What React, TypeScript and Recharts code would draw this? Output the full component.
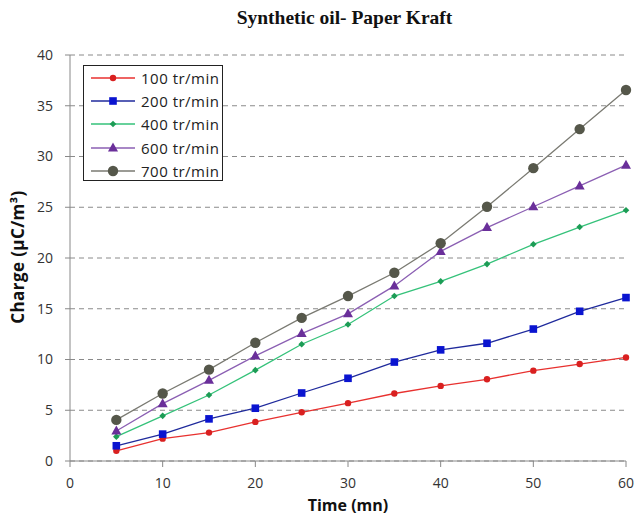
import React from 'react';
import { LineChart, Line, XAxis, YAxis, CartesianGrid } from 'recharts';

const times = [5, 10, 15, 20, 25, 30, 35, 40, 45, 50, 55, 60];
const s100 = [1.0, 2.2, 2.8, 3.85, 4.8, 5.7, 6.65, 7.4, 8.05, 8.9, 9.55, 10.2];
const s200 = [1.5, 2.65, 4.15, 5.2, 6.7, 8.15, 9.75, 10.95, 11.6, 13.0, 14.75, 16.1];
const s400 = [2.4, 4.45, 6.5, 8.95, 11.5, 13.45, 16.25, 17.7, 19.4, 21.35, 23.05, 24.7];
const s600 = [2.95, 5.65, 7.95, 10.35, 12.55, 14.5, 17.25, 20.65, 23.0, 25.05, 27.1, 29.15];
const s700 = [4.05, 6.65, 9.0, 11.65, 14.1, 16.25, 18.55, 21.45, 25.05, 28.85, 32.7, 36.55];
const xTicks = [0, 10, 20, 30, 40, 50, 60];
const yTicks = [0, 5, 10, 15, 20, 25, 30, 35, 40];

const seriesDefs = [
  { key: 's100', name: '100 tr/min', line: '#e8312f', fill: '#d92020', shape: 'smallCircle' },
  { key: 's200', name: '200 tr/min', line: '#1f2a9c', fill: '#0a14d0', shape: 'square' },
  { key: 's400', name: '400 tr/min', line: '#35c27a', fill: '#1c9c55', shape: 'diamond' },
  { key: 's600', name: '600 tr/min', line: '#8b5fb3', fill: '#6a2f9a', shape: 'triangle' },
  { key: 's700', name: '700 tr/min', line: '#7a7a72', fill: '#55574a', shape: 'bigCircle' },
];

const data = times.map((t, i) => ({
  t,
  s100: s100[i],
  s200: s200[i],
  s400: s400[i],
  s600: s600[i],
  s700: s700[i],
}));

function marker(shape: string, cx: number, cy: number, fill: string, key?: any) {
  switch (shape) {
    case 'smallCircle':
      return <circle key={key} cx={cx} cy={cy} r={3.2} fill={fill} />;
    case 'square':
      return <rect key={key} x={cx - 3.8} y={cy - 3.8} width={7.6} height={7.6} fill={fill} />;
    case 'diamond':
      return <polygon key={key} points={`${cx},${cy - 3.3} ${cx + 3.3},${cy} ${cx},${cy + 3.3} ${cx - 3.3},${cy}`} fill={fill} />;
    case 'triangle':
      return <polygon key={key} points={`${cx},${cy - 5.5} ${cx + 5},${cy + 3.5} ${cx - 5},${cy + 3.5}`} fill={fill} />;
    default:
      return <circle key={key} cx={cx} cy={cy} r={5.2} fill={fill} />;
  }
}

const FONT = '"Open Sans", sans-serif';

const LegendBox = () => (
  <div
    style={{
      position: 'absolute',
      left: 83,
      top: 65,
      border: '1px solid #222',
      background: '#fff',
      width: 140,
      height: 116,
      boxSizing: 'border-box',
    }}
  >
    {seriesDefs.map((s) => (
      <div key={s.key} style={{ display: 'flex', alignItems: 'center', height: 23.4 }}>
        <svg width={52} height={14} style={{ marginLeft: 5, flex: 'none' }}>
          <line x1={2} y1={7} x2={46} y2={7} stroke={s.line} strokeWidth={1.3} />
          {marker(s.shape, 24, 7, s.fill)}
        </svg>
        <span style={{ fontFamily: FONT, fontSize: 15, color: '#222', letterSpacing: 0.5, whiteSpace: 'nowrap' }}>
          {s.name}
        </span>
      </div>
    ))}
  </div>
);

export default function App() {
  return (
    <div style={{ position: 'absolute', left: 0, top: 0, width: 639, height: 517, background: '#fff' }}>
      <LineChart
        width={639}
        height={517}
        data={data}
        margin={{ top: 55, right: 13, bottom: 26, left: 30 }}
        style={{ position: 'absolute', left: 0, top: 0 }}
      >
        <CartesianGrid vertical={false} stroke="#8a8a8a" strokeDasharray="5 4" />
        <XAxis
          dataKey="t"
          type="number"
          domain={[0, 60]}
          ticks={xTicks}
          height={30}
          stroke="#888"
          tickSize={6}
          tickMargin={11}
          tick={{ fill: '#333', fontSize: 14, fontFamily: FONT }}
        />
        <YAxis
          type="number"
          domain={[0, 40]}
          ticks={yTicks}
          width={40}
          stroke="#888"
          tickSize={5}
          tickMargin={12}
          tick={{ fill: '#333', fontSize: 14, fontFamily: FONT }}
        />
        {seriesDefs.map((s) => (
          <Line
            key={s.key}
            dataKey={s.key}
            name={s.name}
            stroke={s.line}
            strokeWidth={1.3}
            isAnimationActive={false}
            dot={(p: any) => marker(s.shape, p.cx, p.cy, s.fill, `${s.key}-${p.index}`)}
          />
        ))}
      </LineChart>
      <svg width={639} height={517} style={{ position: 'absolute', left: 0, top: 0, pointerEvents: 'none' }}>
        <text
          x={348}
          y={511}
          textAnchor="middle"
          style={{ fontFamily: FONT, fontWeight: 'bold', fontSize: 16, fill: '#111' }}
        >
          Time (mn)
        </text>
        <text
          transform="translate(24,257) rotate(-90)"
          textAnchor="middle"
          style={{ fontFamily: FONT, fontWeight: 'bold', fontSize: 17, fill: '#111', letterSpacing: 0.4 }}
        >
          Charge (µC/m³)
        </text>
      </svg>
      <div
        style={{
          position: 'absolute',
          left: 0,
          width: 639,
          top: 7,
          textAlign: 'center',
          fontFamily: '"Liberation Serif", "Times New Roman", serif',
          fontWeight: 'bold',
          fontSize: 19.5,
          color: '#111',
          paddingLeft: 50,
          boxSizing: 'border-box',
        }}
      >
        Synthetic oil- Paper Kraft
      </div>
      <LegendBox />
    </div>
  );
}
